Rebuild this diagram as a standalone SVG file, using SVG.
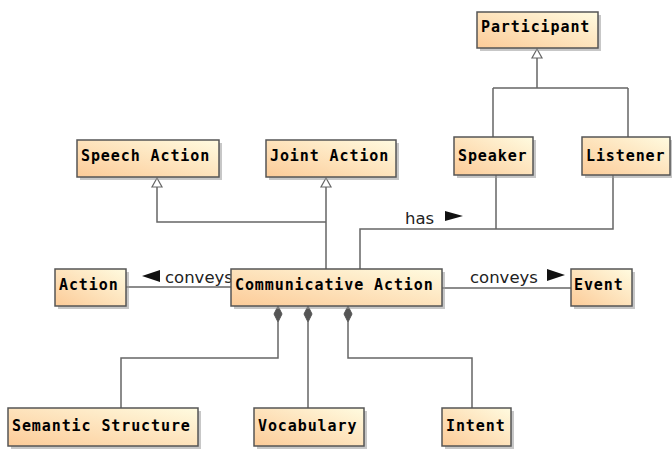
<svg xmlns="http://www.w3.org/2000/svg" width="672" height="449" viewBox="0 0 672 449">
<defs>
<linearGradient id="g" x1="0" y1="1" x2="1" y2="0">
<stop offset="0" stop-color="#FCCB98"/>
<stop offset="1" stop-color="#FFFBE0"/>
</linearGradient>
</defs>
<style>
.box rect.b{fill:url(#g);stroke:#555;stroke-width:1.5}
.box rect.s{fill:#999;opacity:0.55}
.box text{font-family:"DejaVu Sans Mono","Liberation Mono",monospace;font-weight:bold;font-size:15px;letter-spacing:0.9px;fill:#000}
.ln{fill:none;stroke:#666;stroke-width:1.5}
.hollow{fill:#fff;stroke:#666;stroke-width:1.2}
.dia{fill:#555;stroke:#555;stroke-width:1}
.lbl{font-family:"DejaVu Sans","Liberation Sans",sans-serif;font-size:16.5px;fill:#222}
.dir{fill:#111}
</style>
<g id="connectors">
<path class="ln" d="M537 58 V88 M493 88 H628 M493 88 V137 M628 88 V137"/>
<polygon class="hollow" points="537,49 532,58 542,58"/>
<path class="ln" d="M157 187 V222 H326 M326 187 V269"/>
<polygon class="hollow" points="157,178 152,187 162,187"/>
<polygon class="hollow" points="326,178 321,187 331,187"/>
<path class="ln" d="M360 269 V229 H613 V175 M496 175 V229"/>
<text class="lbl" x="405" y="224">has</text>
<polygon class="dir" points="445,211 463,216 445,221"/>
<path class="ln" d="M126 287 H231"/>
<polygon class="dir" points="160,270 142,276 160,282"/>
<text class="lbl" x="165" y="283">conveys</text>
<path class="ln" d="M442 288 H571"/>
<text class="lbl" x="470" y="283">conveys</text>
<polygon class="dir" points="547,269 565,275 547,281"/>
<path class="ln" d="M278 322 V358 H121 V408 M308 322 V408 M348 322 V358 H472 V408"/>
<polygon class="dia" points="278,306 282,314 278,322 274,314"/>
<polygon class="dia" points="308,306 312,314 308,322 304,314"/>
<polygon class="dia" points="348,306 352,314 348,322 344,314"/>
</g>
<g id="participant" class="box"><rect class="s" x="480" y="15" width="121" height="36"/><rect class="b" x="477" y="12" width="121" height="36"/><text x="481" y="32">Participant</text></g>
<g id="speaker" class="box"><rect class="s" x="457" y="140" width="79" height="38"/><rect class="b" x="454" y="137" width="79" height="38"/><text x="458" y="161">Speaker</text></g>
<g id="listener" class="box"><rect class="s" x="585" y="140" width="88" height="38"/><rect class="b" x="582" y="137" width="88" height="38"/><text x="586" y="161">Listener</text></g>
<g id="speech-action" class="box"><rect class="s" x="80" y="143" width="142" height="37"/><rect class="b" x="77" y="140" width="142" height="37"/><text x="81" y="161">Speech Action</text></g>
<g id="joint-action" class="box"><rect class="s" x="269" y="143" width="130" height="37"/><rect class="b" x="266" y="140" width="130" height="37"/><text x="270" y="161">Joint Action</text></g>
<g id="action" class="box"><rect class="s" x="58" y="272" width="71" height="37"/><rect class="b" x="55" y="269" width="71" height="37"/><text x="59" y="290">Action</text></g>
<g id="communicative-action" class="box"><rect class="s" x="234" y="272" width="211" height="37"/><rect class="b" x="231" y="269" width="211" height="37"/><text x="235" y="290">Communicative Action</text></g>
<g id="event" class="box"><rect class="s" x="574" y="272" width="61" height="37"/><rect class="b" x="571" y="269" width="61" height="37"/><text x="574" y="290">Event</text></g>
<g id="semantic-structure" class="box"><rect class="s" x="11" y="411" width="190" height="38"/><rect class="b" x="8" y="408" width="190" height="38"/><text x="12" y="431">Semantic Structure</text></g>
<g id="vocabulary" class="box"><rect class="s" x="257" y="411" width="110" height="38"/><rect class="b" x="254" y="408" width="110" height="38"/><text x="258" y="431">Vocabulary</text></g>
<g id="intent" class="box"><rect class="s" x="445" y="411" width="69" height="38"/><rect class="b" x="442" y="408" width="69" height="38"/><text x="446" y="431">Intent</text></g>
</svg>
